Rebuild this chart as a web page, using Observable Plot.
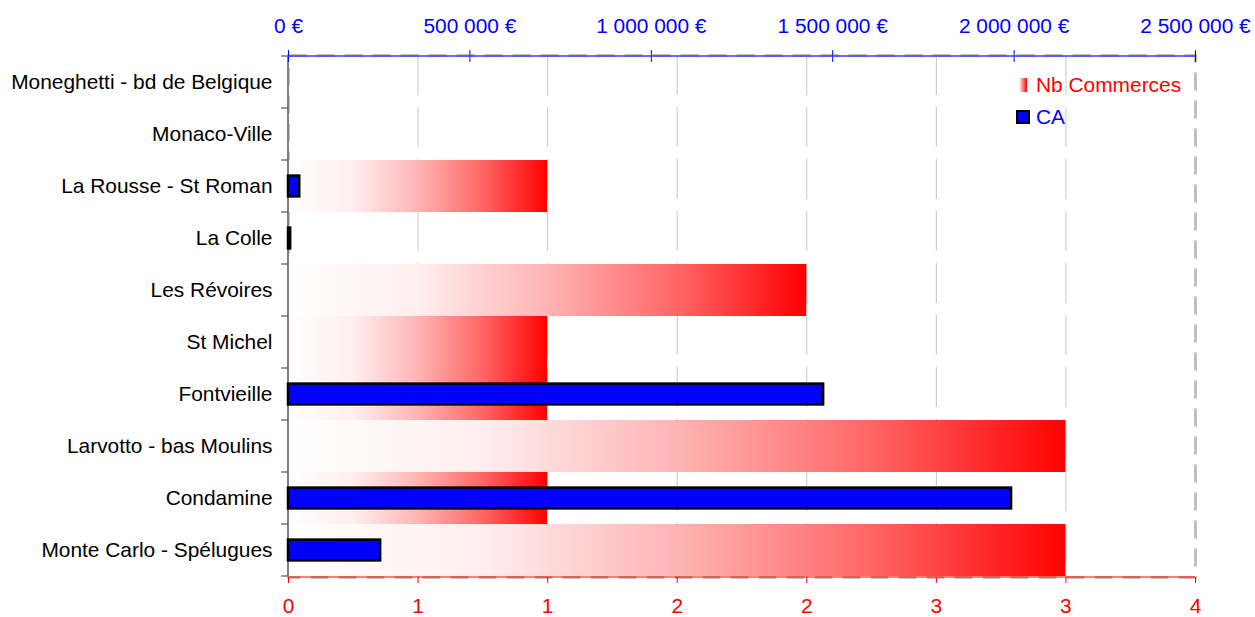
<!DOCTYPE html>
<html><head><meta charset="utf-8">
<script src="https://cdn.jsdelivr.net/npm/d3@7"></script>
<script src="https://cdn.jsdelivr.net/npm/@observablehq/plot@0.6"></script>
<style>
body{margin:0;background:#fff;}
#wrap{position:relative;width:1255px;height:617px;font-family:"Liberation Sans",Arial,sans-serif;}
#wrap svg{position:absolute;left:0;top:0;}
.leg{position:absolute;font-size:20.9px;line-height:24px;white-space:nowrap;}
</style></head><body>
<div id="wrap"></div>
<script>
const categories = ["Moneghetti - bd de Belgique","Monaco-Ville","La Rousse - St Roman","La Colle","Les Révoires","St Michel","Fontvieille","Larvotto - bas Moulins","Condamine","Monte Carlo - Spélugues"];
const nbCommerces = [0,0,1,0,2,1,1,3,1,3];
const caValues = [0,0,31000,6000,0,0,1475000,0,1993000,254000];
const nbTicks = [0,0.5,1,1.5,2,2.5,3,3.5];
const nbTickLabels = ["0","1","1","2","2","3","3","4"];
const caTicks = [0,500000,1000000,1500000,2000000,2500000];
const caTickLabels = ["0 €","500 000 €","1 000 000 €","1 500 000 €","2 000 000 €","2 500 000 €"];
const legendLabels = ["Nb Commerces","CA"];

const rows = categories.map((c,i)=>({cat:c, nb:nbCommerces[i], ca:caValues[i]}));
const W=1255, H=617;
const margins = {marginLeft:288, marginRight:60, marginTop:55, marginBottom:40};
const style = {fontFamily:'"Liberation Sans", Arial, sans-serif', fontSize:"20.9px", background:"transparent", overflow:"visible"};

const nbPlot = Plot.plot({
  width:W, height:H, ...margins, style,
  x:{domain:[0,3.5], axis:null},
  y:{domain:categories, padding:0, axis:null},
  marks:[
    Plot.ruleX(nbTicks.slice(1,-1), {stroke:"#c8c8c8", strokeWidth:1, strokeDasharray:"40,12"}),
    Plot.frame({stroke:"#c0c0c0", strokeWidth:3, strokeDasharray:"18,10"}),
    Plot.barX(rows, {y:"cat", x:"nb", fill:"url(#nbGrad)"}),
    Plot.axisX({anchor:"bottom", label:null, ticks:nbTicks, tickFormat:d=>nbTickLabels[nbTicks.indexOf(d)], tickSize:6, tickPadding:15, color:"#ff0000"}),
    Plot.axisY({anchor:"left", label:null, tickSize:0, tickPadding:16, color:"#000"})
  ]
});

const caPlot = Plot.plot({
  width:W, height:H, ...margins, style,
  x:{domain:[0,2500000], axis:null},
  y:{domain:categories, padding:0, axis:null},
  marks:[
    Plot.barX(rows, {filter:d=>d.ca>0, y:"cat", x:"ca", fill:"#0000ff", stroke:"#000", strokeWidth:2.5, insetTop:15.6, insetBottom:15.6}),
    Plot.axisX({anchor:"top", label:null, ticks:caTicks, tickFormat:d=>caTickLabels[caTicks.indexOf(d)], tickSize:12, dy:6, tickPadding:17, color:"#0000ff"})
  ]
});

// gradient + axis lines drawn from the plot's scales
const s1 = d3.select(nbPlot);
s1.insert("defs", ":first-child").html(
  '<linearGradient id="nbGrad" x1="0" x2="1" y1="0" y2="0">' +
  '<stop offset="0" stop-color="#ffffff"/><stop offset="0.25" stop-color="#ffeeee"/>' +
  '<stop offset="0.5" stop-color="#ffb4b4"/><stop offset="0.75" stop-color="#ff6666"/>' +
  '<stop offset="1" stop-color="#ff0000"/></linearGradient>');
const xs = nbPlot.scale("x"), ys = nbPlot.scale("y");
const x0 = xs.apply(0), xEnd = xs.apply(3.5);
const bounds = categories.map(c=>ys.apply(c)).concat([ys.apply(categories[categories.length-1]) + ys.bandwidth]);
const g1 = s1.append("g");
g1.append("line").attr("x1",x0).attr("x2",x0).attr("y1",bounds[0]).attr("y2",bounds[bounds.length-1]).attr("stroke","#808080").attr("stroke-width",2);
g1.selectAll(null).data(bounds).join("line").attr("x1",x0-7).attr("x2",x0).attr("y1",d=>d).attr("y2",d=>d).attr("stroke","#555").attr("stroke-width",1.2);
g1.append("line").attr("x1",x0).attr("x2",xEnd).attr("y1",bounds[bounds.length-1]+1).attr("y2",bounds[bounds.length-1]+1).attr("stroke","#ff0000").attr("stroke-width",1.2);

const s2 = d3.select(caPlot);
const xc = caPlot.scale("x");
s2.append("line").attr("x1",xc.apply(0)).attr("x2",xc.apply(2500000)).attr("y1",bounds[0]).attr("y2",bounds[0]).attr("stroke","#3a3aff").attr("stroke-width",1.5);

const wrap = document.getElementById("wrap");
wrap.appendChild(nbPlot);
wrap.appendChild(caPlot);

const leg = document.createElement("div");
leg.innerHTML =
  '<div style="position:absolute;left:1019px;top:78px;width:8px;height:14px;background:linear-gradient(to right,#fff,#ff0000)"></div>' +
  '<div class="leg" style="left:1036px;top:73px;color:#ff0000">' + legendLabels[0] + '</div>' +
  '<div style="position:absolute;left:1016px;top:110px;width:10px;height:10px;background:#0000ff;border:2px solid #000"></div>' +
  '<div class="leg" style="left:1036px;top:105px;color:#0000ff">' + legendLabels[1] + '</div>';
wrap.appendChild(leg);
</script>
</body></html>
